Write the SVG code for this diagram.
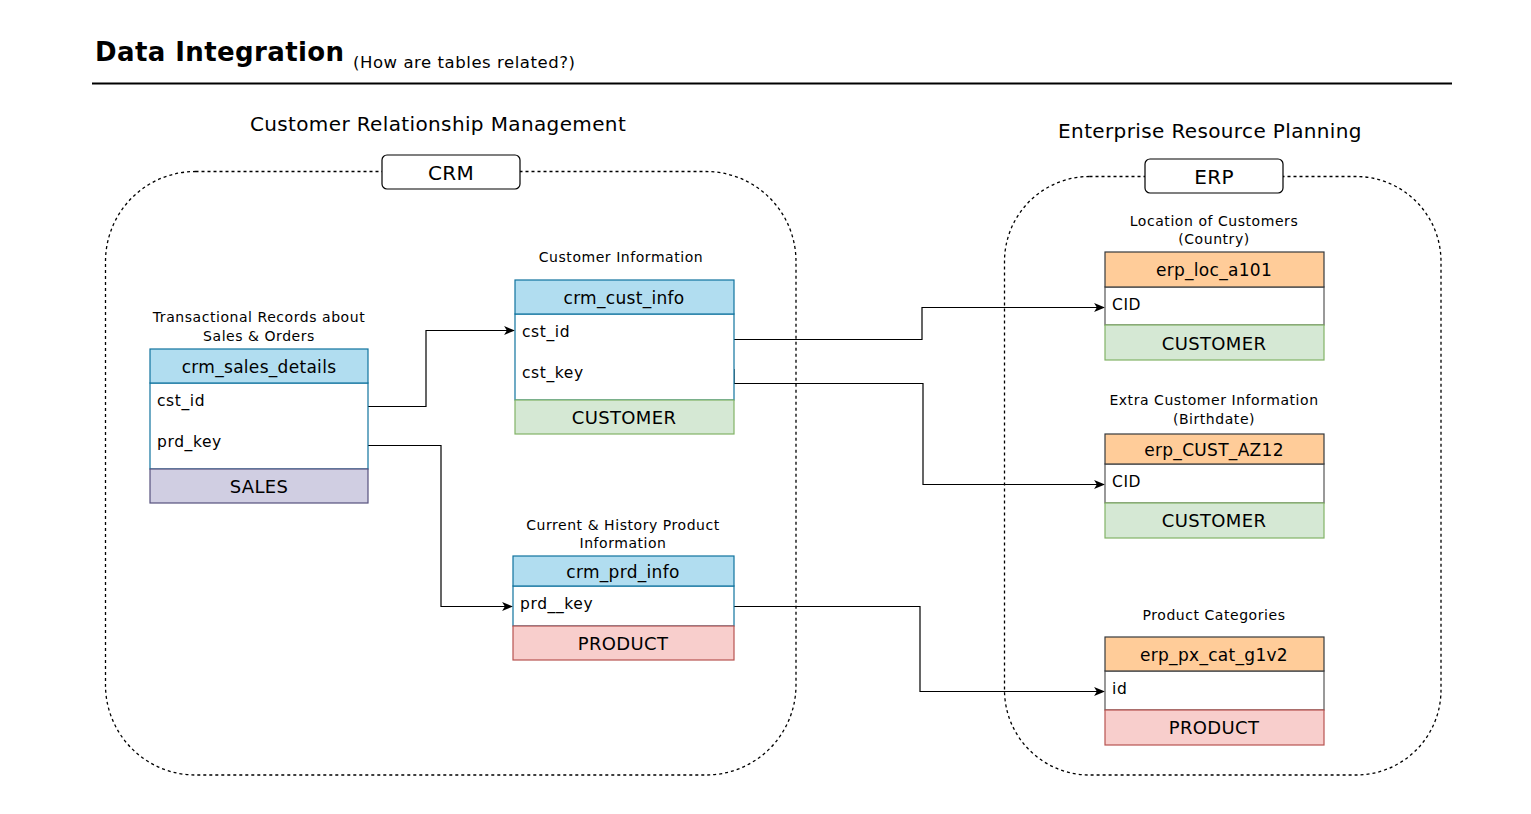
<svg xmlns="http://www.w3.org/2000/svg" width="1531" height="814" viewBox="0 0 1531 814">
<defs>
<marker id="arr" viewBox="0 0 10 10" refX="9" refY="5" markerWidth="11" markerHeight="11" markerUnits="userSpaceOnUse" orient="auto">
<path d="M0,1 L10,5 L0,9 L2.5,5 Z" fill="#000"/>
</marker>
</defs>
<style>
text{font-family:"DejaVu Sans",Verdana,sans-serif;fill:#000}
.lbl{font-size:14px;text-anchor:middle;letter-spacing:0.55px}
.hd{font-size:17px;text-anchor:middle;letter-spacing:0.3px}
.ft{font-size:18px;text-anchor:middle;letter-spacing:0.35px}
.fd{font-size:15.5px;letter-spacing:0.6px}
.big{font-size:20px;text-anchor:middle;letter-spacing:0.37px}
.blue{fill:#b1ddf0;stroke:#10739e;stroke-width:1.2}
.body{fill:#fff;stroke:#10739e;stroke-width:1.2}
.bodyg{fill:#fff;stroke:#555;stroke-width:1.2}
.green{fill:#d5e8d4;stroke:#82b366;stroke-width:1.2}
.purple{fill:#d0cee2;stroke:#56517e;stroke-width:1.2}
.red{fill:#f8cecc;stroke:#b85450;stroke-width:1.2}
.orange{fill:#ffcc99;stroke:#36393d;stroke-width:1.2}
.cont{fill:none;stroke:#000;stroke-width:1.3;stroke-dasharray:3 3}
.tag{fill:#fff;stroke:#000;stroke-width:1.2}
.conn{fill:none;stroke:#000;stroke-width:1.2;marker-end:url(#arr)}
</style>
<rect width="1531" height="814" fill="#fff"/>
<g id="title">
<text x="95" y="61" style="font-size:26px;font-weight:bold;letter-spacing:0.4px">Data Integration</text>
<text x="353" y="68" style="font-size:16.5px;letter-spacing:0.55px">(How are tables related?)</text>
<line x1="92" y1="83.5" x2="1452" y2="83.5" stroke="#000" stroke-width="2"/>
</g>
<g id="crm-group">
<text class="big" x="438" y="131">Customer Relationship Management</text>
<rect class="cont" x="105.5" y="171.5" width="690.5" height="603.5" rx="90" ry="90"/>
<rect class="tag" x="382" y="155" width="138" height="34" rx="5"/>
<text class="big" x="451" y="180">CRM</text>
</g>
<g id="erp-group">
<text class="big" x="1210" y="138">Enterprise Resource Planning</text>
<rect class="cont" x="1004.5" y="176.5" width="436.5" height="598.5" rx="85" ry="85"/>
<rect class="tag" x="1145" y="159" width="138" height="34" rx="5"/>
<text class="big" x="1214" y="184">ERP</text>
</g>
<g id="connectors">
<path class="conn" d="M368,406.5 H426 V330.5 H514"/>
<path class="conn" d="M368,445.5 H441 V606.5 H512"/>
<path class="conn" d="M734,339.5 H922 V307.5 H1104"/>
<path class="conn" d="M734,369 V383.5 H923 V484.5 H1104"/>
<path class="conn" d="M734,606.5 H920 V691.5 H1104"/>
</g>
<g id="crm_sales_details">
<text class="lbl" x="259" y="322">Transactional Records about</text>
<text class="lbl" x="259" y="341">Sales &amp; Orders</text>
<rect class="body" x="150" y="383" width="218" height="86"/>
<rect class="blue" x="150" y="349" width="218" height="34"/>
<rect class="purple" x="150" y="469" width="218" height="34"/>
<text class="hd" x="259" y="373">crm_sales_details</text>
<text class="fd" x="157" y="406">cst_id</text>
<text class="fd" x="157" y="447">prd_key</text>
<text class="ft" x="259" y="493">SALES</text>
</g>
<g id="crm_cust_info">
<text class="lbl" x="621" y="262">Customer Information</text>
<rect class="body" x="515" y="314" width="219" height="86"/>
<rect class="blue" x="515" y="280" width="219" height="34"/>
<rect class="green" x="515" y="400" width="219" height="34"/>
<text class="hd" x="624" y="304">crm_cust_info</text>
<text class="fd" x="522" y="337">cst_id</text>
<text class="fd" x="522" y="378">cst_key</text>
<text class="ft" x="624" y="424">CUSTOMER</text>
</g>
<g id="crm_prd_info">
<text class="lbl" x="623" y="530">Current &amp; History Product</text>
<text class="lbl" x="623" y="548">Information</text>
<rect class="body" x="513" y="586" width="221" height="40"/>
<rect class="blue" x="513" y="556" width="221" height="30"/>
<rect class="red" x="513" y="626" width="221" height="34"/>
<text class="hd" x="623" y="578">crm_prd_info</text>
<text class="fd" x="520" y="609">prd__key</text>
<text class="ft" x="623" y="650">PRODUCT</text>
</g>
<g id="erp_loc_a101">
<text class="lbl" x="1214" y="226">Location of Customers</text>
<text class="lbl" x="1214" y="244">(Country)</text>
<rect class="bodyg" x="1105" y="287" width="219" height="38"/>
<rect class="orange" x="1105" y="252" width="219" height="35"/>
<rect class="green" x="1105" y="325" width="219" height="35"/>
<text class="hd" x="1214" y="276">erp_loc_a101</text>
<text class="fd" x="1112" y="310">CID</text>
<text class="ft" x="1214" y="350">CUSTOMER</text>
</g>
<g id="erp_CUST_AZ12">
<text class="lbl" x="1214" y="405">Extra Customer Information</text>
<text class="lbl" x="1214" y="424">(Birthdate)</text>
<rect class="bodyg" x="1105" y="464" width="219" height="39"/>
<rect class="orange" x="1105" y="434" width="219" height="30"/>
<rect class="green" x="1105" y="503" width="219" height="35"/>
<text class="hd" x="1214" y="456">erp_CUST_AZ12</text>
<text class="fd" x="1112" y="487">CID</text>
<text class="ft" x="1214" y="527">CUSTOMER</text>
</g>
<g id="erp_px_cat_g1v2">
<text class="lbl" x="1214" y="620">Product Categories</text>
<rect class="bodyg" x="1105" y="671" width="219" height="39"/>
<rect class="orange" x="1105" y="637" width="219" height="34"/>
<rect class="red" x="1105" y="710" width="219" height="35"/>
<text class="hd" x="1214" y="661">erp_px_cat_g1v2</text>
<text class="fd" x="1112" y="694">id</text>
<text class="ft" x="1214" y="734">PRODUCT</text>
</g>
</svg>
